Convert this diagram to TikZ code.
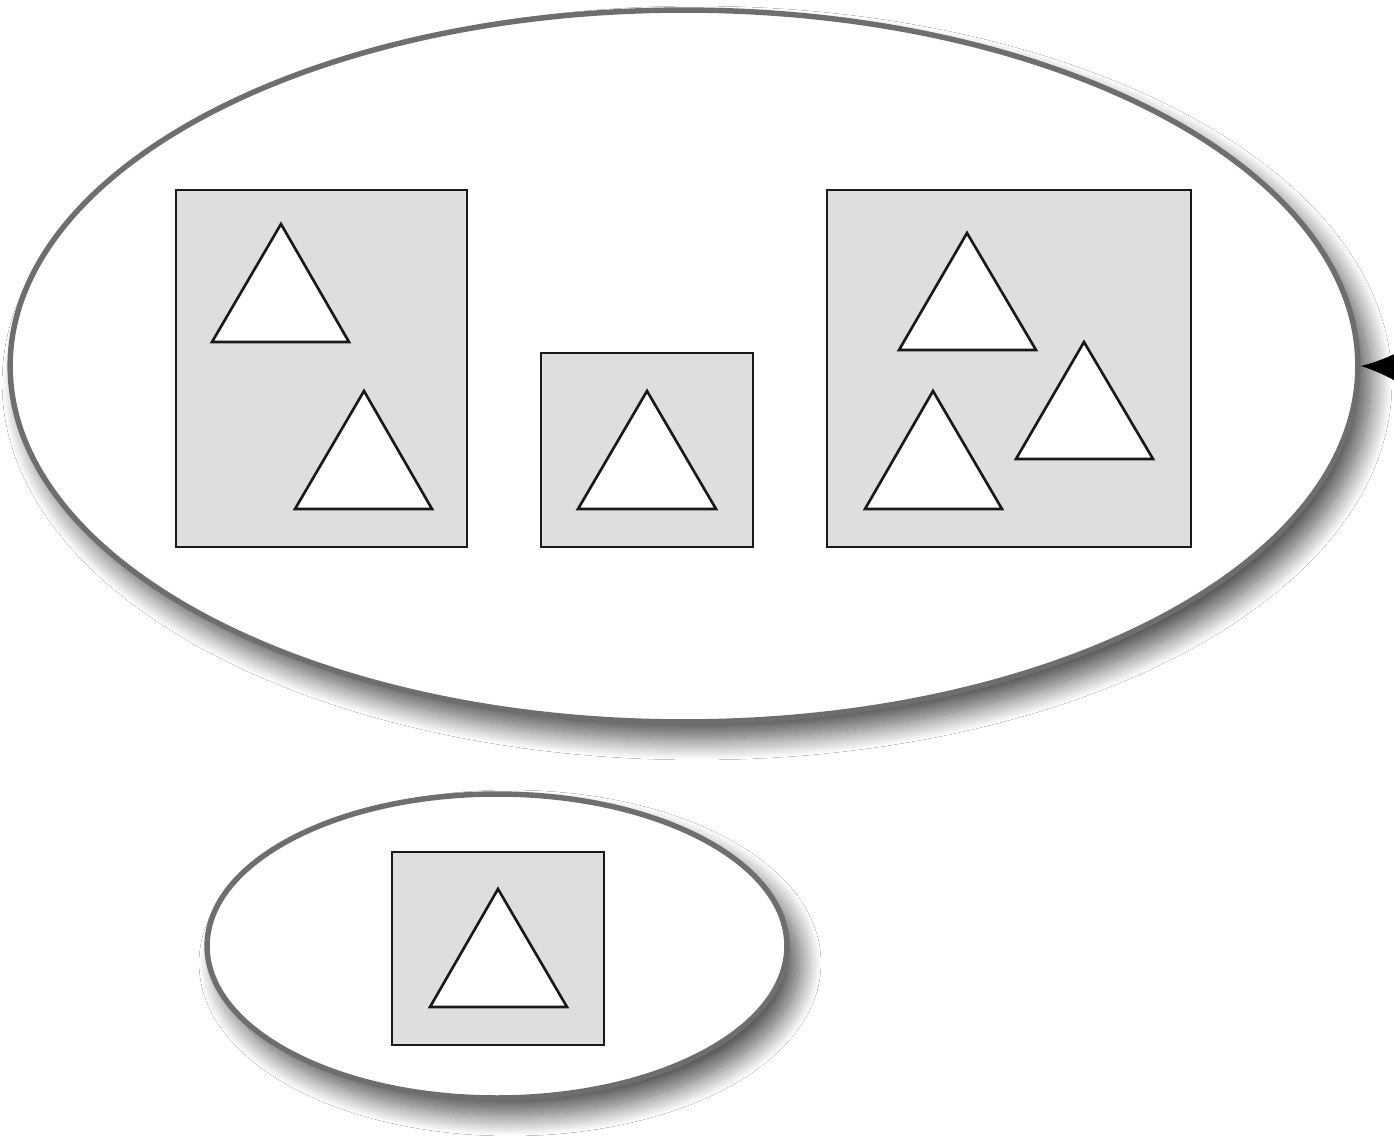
\documentclass[tikz,border=0pt]{standalone}
\usetikzlibrary{shapes.geometric,shadows.blur,arrows.meta}
\definecolor{ringgray}{HTML}{6E6E6E}
\definecolor{boxfill}{HTML}{DEDEDE}
\tikzset{
  ring/.style={ellipse, draw=ringgray, line width=3.1pt, fill=white, inner sep=0pt,
    blur shadow={shadow xshift=0.26cm, shadow yshift=-0.34cm, shadow blur radius=0.42cm, shadow blur steps=25, shadow opacity=70}},
  boxnode/.style={rectangle, draw=black!90, line width=1.5pt, fill=boxfill, inner sep=0pt},
  tri/.style={draw=black!90, line width=1.5pt, fill=white, line join=miter},
  pointer/.style={-{Latex[length=0.75cm,width=0.62cm]}, line width=1.3pt, black}
}
\begin{document}
\begin{tikzpicture}[x=0.02cm, y=-0.02cm]
\clip (0,0) rectangle (1394,1139);
\fill[white] (0,0) rectangle (1394,1139);
% ellipses
\node[ring, minimum width=26.96cm, minimum height=14.24cm] (big) at (684,366) {};
\node[ring, minimum width=11.6cm, minimum height=6.08cm] (small) at (497,946) {};
% boxes
\node[boxnode, minimum width=5.82cm, minimum height=7.14cm] (b1) at (321.5,368.5) {};
\node[boxnode, minimum width=4.24cm, minimum height=3.88cm] (b2) at (647,450) {};
\node[boxnode, minimum width=7.28cm, minimum height=7.14cm] (b3) at (1009,368.5) {};
\node[boxnode, minimum width=4.24cm, minimum height=3.86cm] (b4) at (498,948.5) {};
% triangles
\draw[tri] (281,224) -- (349,342) -- (212,342) -- cycle;
\draw[tri] (364,391) -- (432,509) -- (295,509) -- cycle;
\draw[tri] (647,391) -- (716,509) -- (578,509) -- cycle;
\draw[tri] (967,233) -- (1036,350) -- (899,350) -- cycle;
\draw[tri] (1084,342) -- (1153,459) -- (1016,459) -- cycle;
\draw[tri] (933,391) -- (1002,509) -- (865,509) -- cycle;
\draw[tri] (498,889) -- (567,1007) -- (430,1007) -- cycle;
% pointer arrow
\coordinate (src) at (1460,369);
\draw[pointer] (src) -- (big.east);
\end{tikzpicture}
\end{document}
